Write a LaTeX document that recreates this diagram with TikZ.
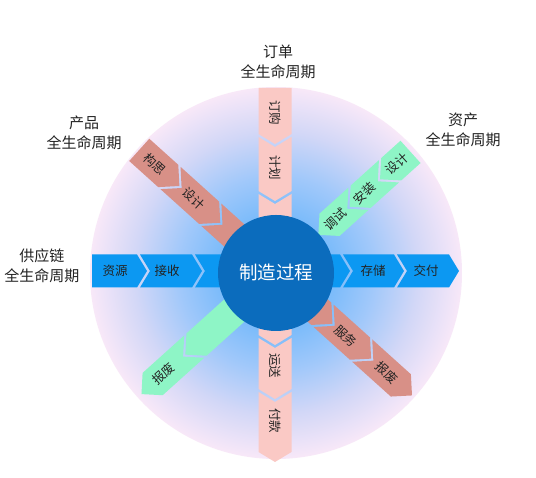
\documentclass[tikz,border=0pt]{standalone}
\usepackage{fontspec}
\setmainfont{Noto Sans CJK SC}
\definecolor{bandblue}{RGB}{12,152,242}
\definecolor{coreblue}{RGB}{11,108,189}
\definecolor{pinkband}{RGB}{250,201,197}
\definecolor{roseband}{RGB}{216,144,135}
\definecolor{greenband}{RGB}{142,245,198}
\definecolor{bgA}{RGB}{110,178,250}
\definecolor{bgB}{RGB}{125,188,250}
\definecolor{bgC}{RGB}{160,200,250}
\definecolor{bgD}{RGB}{210,215,247}
\definecolor{bgE}{RGB}{248,232,248}
\definecolor{txt}{RGB}{35,35,35}
\pgfdeclareradialshading{bgshade}{\pgfpoint{0bp}{0bp}}{color(0bp)=(bgA); color(8bp)=(bgB); color(13bp)=(bgC); color(19bp)=(bgD); color(25bp)=(bgE); color(50bp)=(bgE)}
\newcommand{\segfirst}[5]{\fill[#5] (#1,-#3) -- ({#2-#4},-#3) -- (#2,0) -- ({#2-#4},#3) -- (#1,#3) -- cycle;}
\newcommand{\segnext}[5]{\fill[#5] ({#1-#4},-#3) -- ({#2-#4},-#3) -- (#2,0) -- ({#2-#4},#3) -- ({#1-#4},#3) -- (#1,0) -- cycle;}
\tikzset{
  bandtext/.style={font=\fontsize{12.5}{12.5}\selectfont, text=txt, transform shape, inner sep=0pt},
  outerlabel/.style={font=\fontsize{15}{19.5}\selectfont, align=center, text=txt, inner sep=0pt},
  coretext/.style={font=\fontsize{18.5}{18.5}\selectfont, text=white, inner sep=0pt}
}
\begin{document}
\begin{tikzpicture}[x=1pt,y=1pt]
\fill[white] (0,0) rectangle (536,478);
\useasboundingbox (0,0) rectangle (536,478);
\coordinate (C) at (276,205);
\shade[shading=bgshade] (C) circle (186);

% horizontal band (supply chain)
\begin{scope}[shift={(276,207)}, rotate=0]
\segfirst{-184}{-129}{16.5}{10}{bandblue}
\segnext{-126}{-74}{16.5}{10}{bandblue}
\segnext{-71}{0}{16.5}{10}{bandblue}
\segnext{3}{74}{16.5}{10}{bandblue}
\segnext{77}{128}{16.5}{10}{bandblue}
\segnext{131}{183}{16.5}{10}{bandblue}
\node[bandtext] (h1) at (-161,0) {资源};
\node[bandtext] (h2) at (-109,0) {接收};
\node[bandtext] (h3) at (97,0) {存储};
\node[bandtext] (h4) at (150,0) {交付};
\end{scope}

% vertical band (order)
\begin{scope}[shift={(275,205)}, rotate=-90]
\segfirst{-185}{-129}{16.5}{10}{pinkband}
\segnext{-126}{-72}{16.5}{10}{pinkband}
\segnext{-69}{0}{16.5}{10}{pinkband}
\segnext{3}{72}{16.5}{10}{pinkband}
\segnext{75}{126}{16.5}{10}{pinkband}
\segnext{129}{189}{16.5}{10}{pinkband}
\node[bandtext] (v1) at (-160,0) {订购};
\node[bandtext] (v2) at (-105,0) {计划};
\node[bandtext] (v3) at (93,0) {运送};
\node[bandtext] (v4) at (148,0) {付款};
\end{scope}

% NW-SE band (product)
\begin{scope}[shift={(C)}, rotate=-42]
\segfirst{-184}{-130}{15}{15}{roseband}
\segnext{-127}{-75}{15}{15}{roseband}
\segnext{-72}{0}{15}{15}{roseband}
\segnext{3}{76}{15}{15}{roseband}
\segnext{79}{128}{15}{15}{roseband}
\segnext{131}{183}{15}{15}{roseband}
\node[bandtext] (p1) at (-163,0) {构思};
\node[bandtext] (p2) at (-111,0) {设计};
\node[bandtext] (p3) at (94,0) {服务};
\node[bandtext] (p4) at (149,0) {报废};
\end{scope}

% NE-SW band (asset)
\begin{scope}[shift={(C)}, rotate=222]
\segfirst{-181}{-140}{15}{15}{greenband}
\segnext{-137}{-99}{15}{15}{greenband}
\segnext{-96}{-57}{15}{15}{greenband}
\segnext{-30}{122}{15}{15}{greenband}
\segnext{125}{181}{15}{15}{greenband}
\node[bandtext, rotate=180] (a1) at (-163,0) {设计};
\node[bandtext, rotate=180] (a2) at (-119,0) {安装};
\node[bandtext, rotate=180] (a3) at (-80,0) {调试};
\node[bandtext, rotate=180] (a4) at (151,0) {报废};
\end{scope}

% core
\fill[coreblue] (C) circle (58);
\node[coretext] (core) at (276,206) {制造过程};

% outer labels
\node[outerlabel] (lo) at (278,416) {订单\\全生命周期};
\node[outerlabel] (lp) at (84,345) {产品\\全生命周期};
\node[outerlabel] (la) at (463,348) {资产\\全生命周期};
\node[outerlabel] (ls) at (42,212) {供应链\\全生命周期};
\end{tikzpicture}
\end{document}
